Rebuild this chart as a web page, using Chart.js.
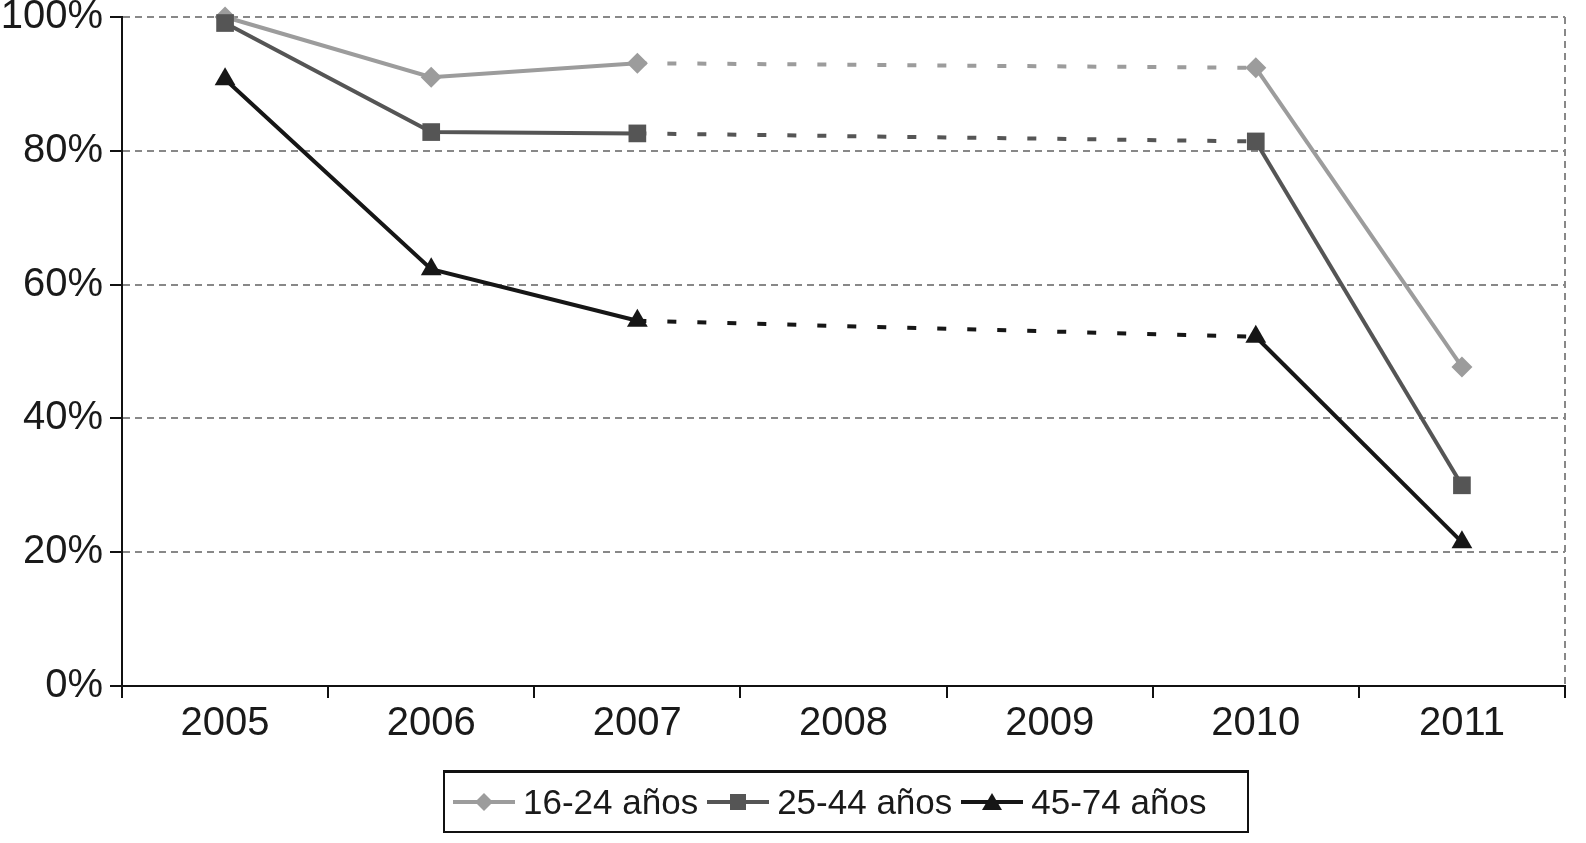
<!DOCTYPE html>
<html>
<head>
<meta charset="utf-8">
<script src="https://cdn.jsdelivr.net/npm/chart.js@4/dist/chart.umd.min.js"></script>
<style>
  html, body { margin: 0; padding: 0; background: #fff; }
  #wrap { position: relative; width: 1586px; height: 843px; }
  #legend {
    position: absolute; left: 443px; top: 770px; width: 794px; height: 58px;
    border: 2px solid #111; border-top-width: 3px;
    display: flex; align-items: center; padding-left: 8px; box-sizing: content-box;
    font-family: "Liberation Sans", Arial, Helvetica, sans-serif; font-size: 35px; color: #1a1a1a;
  }
  #legend .item { display: flex; align-items: center; margin-right: 9px; }
  #legend svg { margin-right: 8px; }
</style>
</head>
<body>
<div id="wrap">
  <canvas id="chart1" width="1586" height="843"></canvas>
  <div id="legend"></div>
</div>
<script>
// años
let years = ["2005", "2006", "2007", "2008", "2009", "2010", "2011"];
let yTicks = [0, 20, 40, 60, 80, 100];

// % por grupo de edad (2008 y 2009 sin dato)
let edad16_24 = [100, 91.0, 93.1, null, null, 92.4, 47.7];
let edad25_44 = [99.1, 82.8, 82.6, null, null, 81.4, 30.0];
let edad45_74 = [90.7, 62.3, 54.6, null, null, 52.2, 21.5];

let nombres = ["16-24 años", "25-44 años", "45-74 años"];
let colores = ["#9c9c9c", "#555555", "#161616"];
let marcas = ["rectRot", "rect", "triangle"];
let radios = [10.5, 12.5, 12];

// tramo sin datos -> discontinuo
let hueco = function (ctx, value) {
	let s = ctx.chart.scales.x;
	let paso = s.getPixelForValue(1) - s.getPixelForValue(0);
	if (ctx.p0.skip || ctx.p1.skip || ctx.p1.x - ctx.p0.x > paso * 1.5) return value;
	return undefined;
};

let serie = function (i, data) {
	return {
		label: nombres[i],
		data: data,
		borderColor: colores[i],
		backgroundColor: colores[i],
		borderWidth: 4,
		pointStyle: marcas[i],
		pointRadius: radios[i],
		pointHoverRadius: radios[i],
		pointBorderWidth: 0,
		pointBackgroundColor: colores[i],
		tension: 0,
		spanGaps: true,
		clip: false,
		order: 3 - i,
		segment: {
			borderDash: (ctx) => hueco(ctx, [9, 21]),
		},
	};
};

let fuente = { family: "'Liberation Sans', Arial, Helvetica, sans-serif", size: 40 };

let grafico = new Chart(document.getElementById("chart1"), {
	type: "line",
	data: {
		labels: years,
		datasets: [serie(0, edad16_24), serie(1, edad25_44), serie(2, edad45_74)],
	},
	options: {
		responsive: false,
		animation: false,
		events: [],
		layout: { padding: { top: 17, right: 21, bottom: 86, left: 0 } },
		plugins: {
			legend: { display: false },
			tooltip: { enabled: false },
		},
		scales: {
			x: {
				offset: true,
				grid: {
					offset: true,
					drawOnChartArea: true,
					drawTicks: true,
					tickLength: 12,
					lineWidth: 2,
					color: (ctx) => (ctx.type === "tick" ? "rgba(0,0,0,0)" : "#888"),
					tickColor: "#111",
					tickWidth: 2,
					tickBorderDash: [],
				},
				border: { display: true, color: "#111", width: 2, dash: [7, 5], z: 1 },
				ticks: { color: "#1a1a1a", font: fuente, padding: 2, maxRotation: 0 },
				afterFit: function (scale) {
					scale.height = 71;
				},
			},
			y: {
				min: 0,
				max: 100,
				afterBuildTicks: function (scale) {
					scale.ticks = yTicks.map((v) => ({ value: v }));
				},
				grid: {
					color: "#888",
					lineWidth: 2,
					tickLength: 12,
					tickColor: "#111",
					tickWidth: 2,
					tickBorderDash: [],
				},
				border: { display: true, color: "#111", width: 2, dash: [7, 5] },
				ticks: {
					color: "#1a1a1a",
					font: { family: fuente.family, size: 40, lineHeight: 0.5 },
					padding: 7,
					callback: (v) => v + "%",
				},
				afterFit: function (scale) {
					scale.width = 122;
				},
			},
		},
	},
});

// leyenda
let icono = function (i) {
	let c = colores[i];
	let m = "";
	if (marcas[i] == "rectRot") m = `<polygon points="31,1 40,10 31,19 22,10" fill="${c}"/>`;
	if (marcas[i] == "rect") m = `<rect x="23" y="2" width="16" height="16" fill="${c}"/>`;
	if (marcas[i] == "triangle") m = `<polygon points="31,1 41,18 21,18" fill="${c}"/>`;
	return `<svg width="62" height="20"><line x1="0" y1="10" x2="62" y2="10" stroke="${c}" stroke-width="4"/>${m}</svg>`;
};
let leyenda = document.getElementById("legend");
nombres.forEach((n, i) => {
	leyenda.innerHTML += `<span class="item">${icono(i)}<span>${n}</span></span>`;
});
</script>
</body>
</html>
